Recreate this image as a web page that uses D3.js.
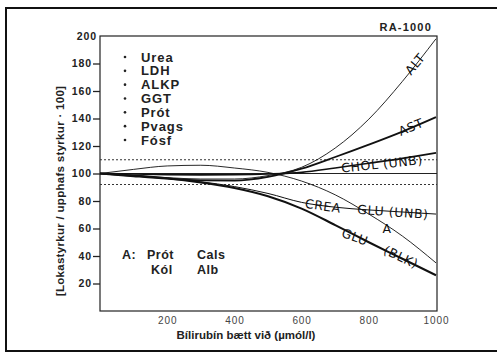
<!DOCTYPE html>
<html>
<head>
<meta charset="utf-8">
<script src="https://cdn.jsdelivr.net/npm/d3@7"></script>
<style>
  body { margin: 0; background: #fff; }
  svg { display: block; }
  .tick text { font-family: "Liberation Sans", Arial, sans-serif; }
  .curveLabel { font-family: "DejaVu Sans", sans-serif; font-size: 12.5px; fill: #111; letter-spacing: 0.6px; }
</style>
</head>
<body>
<script>
(function(){

    //data
    var bilirubin = [0, 100, 200, 300, 400, 500, 600, 700, 800, 900, 1000];
    var alt = [100, 98.5, 97, 96, 96, 98.5, 104.5, 118.5, 139.5, 167, 198];
    var ast = [100, 98, 96.2, 95, 94.8, 97.5, 103.5, 112, 121, 130.5, 141];
    var chol = [100, 99.6, 99.2, 99, 99.1, 99.6, 100.8, 104, 107.5, 111, 115];
    var creaGlu = [100, 98.5, 96.5, 94, 90.5, 85.5, 79, 75.5, 73.5, 72, 70.5];
    var gluBlk = [100, 98.5, 96.5, 93.5, 89.5, 83.5, 74.5, 62.5, 50, 38, 26];
    var groupA = [100, 103, 105.5, 106, 104, 100.8, 94.5, 84.5, 70.5, 54.5, 35];

    var yTicks = [20, 40, 60, 80, 100, 120, 140, 160, 180, 200];
    var xTicks = [200, 400, 600, 800, 1000];
    var limits = [110, 92]; //dotted tolerance lines
    var unaffected = ["Urea", "LDH", "ALKP", "GGT", "Prót", "Pvags", "Fósf"];
    var groupARow1 = ["Prót", "Cals"];
    var groupARow2 = ["Kól", "Alb"];

    var width = 497, height = 353;

    var x = d3.scaleLinear().domain([0, 1000]).range([100, 436]);
    var y = d3.scaleLinear().domain([0, 200]).range([311, 36]);

    var svg = d3.select("body").append("svg")
        .attr("width", width)
        .attr("height", height);

    //outer frame
    svg.append("rect")
        .attr("x", 6).attr("y", 8)
        .attr("width", 500).attr("height", 343)
        .attr("fill", "none")
        .attr("stroke", "#111")
        .attr("stroke-width", 2);

    //plot frame
    svg.append("rect")
        .attr("x", x(0)).attr("y", y(200))
        .attr("width", 437 - x(0)).attr("height", y(0) - y(200))
        .attr("fill", "none")
        .attr("stroke", "#222")
        .attr("stroke-width", 1.2);

    //y axis
    var yAxis = svg.append("g")
        .attr("transform", "translate(" + x(0) + ",0)")
        .call(d3.axisLeft(y).tickValues(yTicks).tickSize(7).tickPadding(1));
    yAxis.select(".domain").remove();
    yAxis.selectAll(".tick line").attr("stroke", "#222").attr("stroke-width", 1.3)
        .filter(function(d){ return d === 200; }).remove();
    yAxis.selectAll(".tick text")
        .attr("fill", "#222")
        .style("font-size", "10.5px")
        .style("font-weight", "bold")
        .style("letter-spacing", "0.9px")
        .filter(function(d){ return d === 200; })
        .attr("x", -3);

    //x axis
    var xAxis = svg.append("g")
        .attr("transform", "translate(0," + y(0) + ")")
        .call(d3.axisBottom(x).tickValues(xTicks).tickFormat(d3.format("d")).tickSize(0).tickPadding(6));
    xAxis.select(".domain").remove();
    xAxis.selectAll(".tick text")
        .attr("fill", "#444")
        .style("font-size", "10px")
        .style("letter-spacing", "0.9px");

    //reference line and tolerance lines
    svg.append("line")
        .attr("x1", x(0)).attr("x2", 437)
        .attr("y1", y(100)).attr("y2", y(100))
        .attr("stroke", "#222").attr("stroke-width", 1.2);

    svg.selectAll(".limit")
        .data(limits)
        .enter()
        .append("line")
        .attr("class", "limit")
        .attr("x1", x(0)).attr("x2", 437)
        .attr("y1", function(d){ return y(d); })
        .attr("y2", function(d){ return y(d); })
        .attr("stroke", "#333")
        .attr("stroke-width", 1)
        .attr("stroke-dasharray", "2,2");

    //interference curves
    var series = [
        {values: alt, w: 0.9},
        {values: groupA, w: 0.9},
        {values: creaGlu, w: 1},
        {values: chol, w: 1.6},
        {values: ast, w: 1.8},
        {values: gluBlk, w: 2}
    ];

    var line = d3.line()
        .x(function(d, i){ return x(bilirubin[i]); })
        .y(function(d){ return y(d); })
        .curve(d3.curveMonotoneX);

    svg.selectAll(".curve")
        .data(series)
        .enter()
        .append("path")
        .attr("class", "curve")
        .attr("d", function(d){ return line(d.values); })
        .attr("fill", "none")
        .attr("stroke", "#111")
        .attr("stroke-width", function(d){ return d.w; });

    //curve labels, hand lettered in the original
    var labels = [
        {t: "ALT", x: 415, y: 64, r: -50},
        {t: "AST", x: 411, y: 127, r: -22},
        {t: "CHOL (UNB)", x: 382, y: 164, r: -6},
        {t: "CREA", x: 323, y: 206, r: 8},
        {t: "GLU (UNB)", x: 393, y: 212, r: 4},
        {t: "A", x: 387, y: 229, r: 0},
        {t: "GLU", x: 355, y: 237, r: 20},
        {t: "(BLK)", x: 401, y: 257, r: 25}
    ];
    svg.selectAll(".curveLabel")
        .data(labels)
        .enter()
        .append("text")
        .attr("class", "curveLabel")
        .attr("text-anchor", "middle")
        .attr("dy", "0.35em")
        .attr("transform", function(d){
            return "translate(" + d.x + "," + d.y + ") rotate(" + d.r + ")";
        })
        .text(function(d){ return d.t; });

    //list of unaffected analytes
    var bulletY = d3.scalePoint().domain(unaffected).range([57, 140]);
    var list = svg.append("g")
        .style("font-family", "'Liberation Sans', Arial, sans-serif")
        .style("font-weight", "bold")
        .style("font-size", "13px")
        .attr("fill", "#222");
    list.selectAll(".bullet")
        .data(unaffected)
        .enter()
        .append("circle")
        .attr("cx", 125)
        .attr("cy", function(d){ return bulletY(d); })
        .attr("r", 1.3)
        .attr("fill", "#222");
    list.selectAll(".name")
        .data(unaffected)
        .enter()
        .append("text")
        .attr("x", 141)
        .attr("y", function(d){ return bulletY(d); })
        .attr("dy", "0.35em")
        .style("letter-spacing", "0.9px")
        .text(function(d){ return d; });

    //group A note
    var note = svg.append("g")
        .style("font-family", "'Liberation Sans', Arial, sans-serif")
        .style("font-weight", "bold")
        .style("font-size", "12.5px")
        .style("letter-spacing", "0.5px")
        .attr("fill", "#222");
    note.append("text").attr("x", 122).attr("y", 259).text("A:");
    note.selectAll(".r1")
        .data(groupARow1)
        .enter()
        .append("text")
        .attr("x", function(d, i){ return [147, 197][i]; })
        .attr("y", 259)
        .text(function(d){ return d; });
    note.selectAll(".r2")
        .data(groupARow2)
        .enter()
        .append("text")
        .attr("x", function(d, i){ return [151, 197][i]; })
        .attr("y", 274)
        .text(function(d){ return d; });

    //titles
    svg.append("text")
        .attr("x", 432).attr("y", 31)
        .attr("text-anchor", "end")
        .style("font-family", "'Liberation Sans', Arial, sans-serif")
        .style("font-weight", "bold")
        .style("font-size", "11px")
        .style("letter-spacing", "1.2px")
        .attr("fill", "#222")
        .text("RA-1000");

    svg.append("text")
        .attr("x", 246).attr("y", 339)
        .attr("text-anchor", "middle")
        .style("font-family", "'Liberation Sans', Arial, sans-serif")
        .style("font-weight", "bold")
        .style("font-size", "11.5px")
        .attr("fill", "#222")
        .text("Bílirubín bætt við (µmól/l)");

    svg.append("text")
        .attr("transform", "translate(64,191) rotate(-90)")
        .attr("text-anchor", "middle")
        .style("font-family", "'Liberation Sans', Arial, sans-serif")
        .style("font-weight", "bold")
        .style("font-size", "11.5px")
        .style("letter-spacing", "0.3px")
        .attr("fill", "#222")
        .text("[Lokastyrkur / upphafs styrkur · 100]");

})();
</script>
</body>
</html>
